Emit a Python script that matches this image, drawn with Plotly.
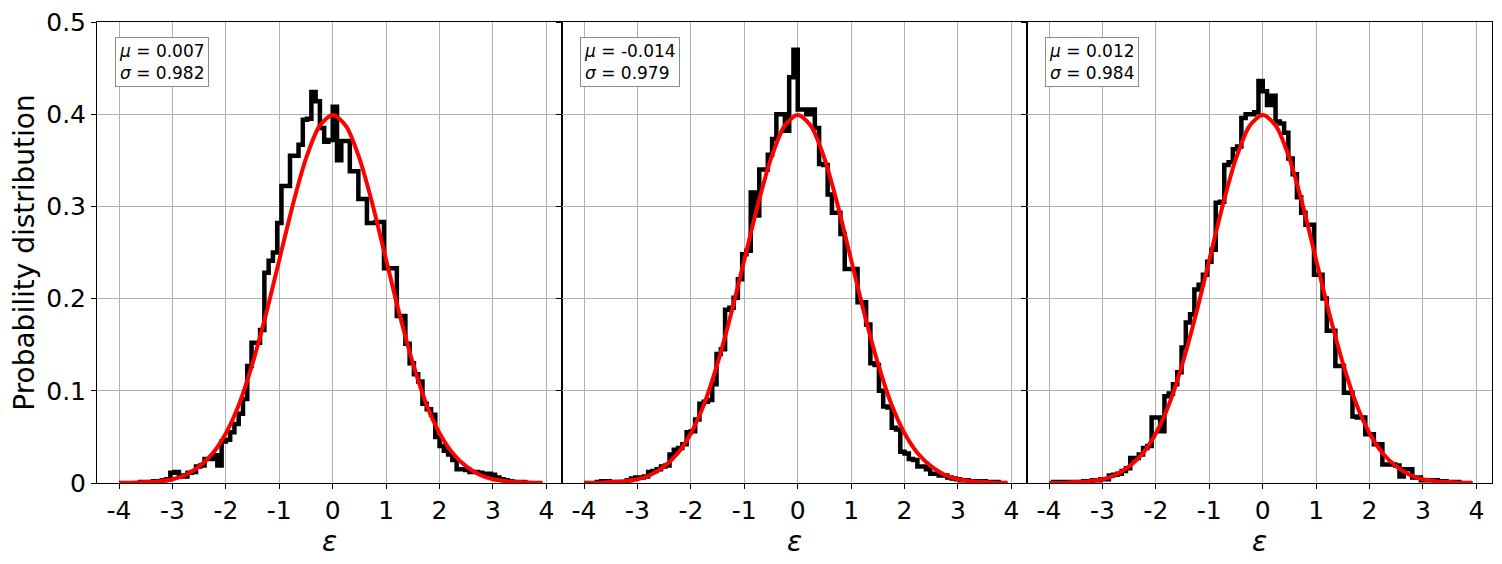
import numpy as np
import plotly.graph_objects as go
from plotly.subplots import make_subplots

# histogram bins: left edge -4, width 0.08 (99 bins)
BIN_START = -4.0
BIN_WIDTH = 0.08

HIST_A = [0, 0, 0, 0, 0, 0.001, 0.001,
          0.001, 0.002, 0.002, 0.003, 0.004,
          0.011, 0.012, 0.008, 0.007, 0.011, 0.012,
          0.018, 0.019, 0.026, 0.026, 0.030, 0.019,
          0.045, 0.047, 0.055, 0.064, 0.075, 0.091,
          0.127, 0.152, 0.152, 0.166, 0.228, 0.241,
          0.250, 0.282, 0.322, 0.322, 0.355, 0.355,
          0.367, 0.394, 0.395, 0.424, 0.414, 0.385,
          0.370, 0.372, 0.408, 0.350, 0.371, 0.371,
          0.338, 0.338, 0.308, 0.308, 0.282, 0.282,
          0.283, 0.283, 0.233, 0.233, 0.233, 0.181,
          0.181, 0.151, 0.130, 0.118, 0.110, 0.086,
          0.080, 0.074, 0.050, 0.040, 0.035, 0.031,
          0.025, 0.015, 0.015, 0.014, 0.012, 0.012,
          0.011, 0.010, 0.010, 0.009, 0.006, 0.004,
          0.003, 0.002, 0.001, 0.001, 0.001, 0, 0, 0, 0]

HIST_B = [0, 0, 0, 0.001, 0.002, 0.002, 0.001, 0.001, 0.001, 0.001,
          0.003, 0.005, 0.006, 0.006, 0.007,
          0.012, 0.013, 0.015, 0.018, 0.019,
          0.031, 0.036, 0.038, 0.042, 0.055,
          0.056, 0.069, 0.086, 0.088, 0.090,
          0.107, 0.140, 0.145, 0.188, 0.190,
          0.201, 0.221, 0.248, 0.252, 0.315,
          0.290, 0.340, 0.340, 0.356, 0.373,
          0.400, 0.400, 0.382, 0.440, 0.470,
          0.405, 0.405, 0.400, 0.405, 0.385,
          0.346, 0.345, 0.313, 0.293, 0.293,
          0.270, 0.232, 0.232, 0.232, 0.196,
          0.196, 0.172, 0.130, 0.128, 0.100,
          0.083, 0.082, 0.060, 0.058, 0.034,
          0.032, 0.026, 0.025, 0.018, 0.018,
          0.015, 0.010, 0.010, 0.008, 0.008,
          0.006, 0.005, 0.004, 0.003, 0.003,
          0.002, 0.002, 0.001, 0.002, 0.001,
          0.001, 0.001, 0, 0]

HIST_C = [0, 0.001, 0.001, 0.001, 0.001, 0.001, 0.001, 0.001, 0.002, 0.002,
          0.003, 0.003, 0.004, 0.004, 0.008,
          0.009, 0.010, 0.013, 0.016, 0.027,
          0.027, 0.031, 0.038, 0.040, 0.071,
          0.071, 0.056, 0.094, 0.097, 0.107,
          0.120, 0.147, 0.174, 0.183, 0.210,
          0.215, 0.226, 0.240, 0.253, 0.304,
          0.305, 0.345, 0.348, 0.362, 0.365,
          0.396, 0.400, 0.400, 0.402, 0.436,
          0.425, 0.410, 0.420, 0.392, 0.390,
          0.380, 0.352, 0.335, 0.310, 0.293,
          0.280, 0.280, 0.226, 0.226, 0.200,
          0.165, 0.165, 0.127, 0.127, 0.098,
          0.098, 0.072, 0.071, 0.071, 0.053,
          0.053, 0.042, 0.042, 0.020, 0.020,
          0.020, 0.019, 0.007, 0.015, 0.015,
          0.006, 0.006, 0.003, 0.003, 0.003,
          0.003, 0.002, 0.002, 0.001, 0.001,
          0.001, 0, 0, 0]

# red reference curve
CURVE_X = [-4.0, -3.75, -3.5, -3.25, -3.0, -2.75, -2.5, -2.25, -2.0, -1.75, -1.5,
           -1.25, -1.0, -0.75, -0.5, -0.25, 0.0, 0.25, 0.5, 0.75, 1.0, 1.25, 1.5,
           1.75, 2.0, 2.25, 2.5, 2.75, 3.0, 3.25, 3.5, 3.75, 3.93]
CURVE_Y = [0.000, 0.000, 0.001, 0.002, 0.004, 0.009, 0.018, 0.032, 0.054, 0.086, 0.130,
           0.183, 0.242, 0.301, 0.352, 0.387, 0.399, 0.387, 0.352, 0.301, 0.242, 0.183, 0.130,
           0.086, 0.054, 0.032, 0.018, 0.009, 0.004, 0.002, 0.001, 0.000, 0.000]

MUS = ["0.007", "-0.014", "0.012"]
SIGMAS = ["0.982", "0.979", "0.984"]

X_TICKS = [-4, -3, -2, -1, 0, 1, 2, 3, 4]
X_LABELS = ["-4", "-3", "-2", "-1", "0", "1", "2", "3", "4"]
Y_TICKS = [0, 0.1, 0.2, 0.3, 0.4, 0.5]
Y_LABELS = ["0", "0.1", "0.2", "0.3", "0.4", "0.5"]

FONT = "DejaVu Sans"

fig = make_subplots(rows=1, cols=3, shared_yaxes=True, horizontal_spacing=0)

for i, hist in enumerate([HIST_A, HIST_B, HIST_C]):
    col = i + 1
    n = len(hist)
    edges = BIN_START + BIN_WIDTH * np.arange(n + 1)
    # step outline: start at baseline, walk across bin tops, drop back down
    xs = np.concatenate([[edges[0]], edges])
    ys = np.concatenate([[0], hist, [0]])
    fig.add_trace(go.Scatter(x=xs, y=ys, mode="lines", line_shape="hv",
                             line=dict(color="black", width=4.5),
                             showlegend=False, hoverinfo="skip"),
                  row=1, col=col)
    fig.add_trace(go.Scatter(x=CURVE_X, y=CURVE_Y, mode="lines",
                             line=dict(color="#ff0000", width=4, shape="spline", smoothing=0.8),
                             showlegend=False),
                  row=1, col=col)

    xname = "x" if col == 1 else f"x{col}"
    yname = "y" if col == 1 else f"y{col}"
    fig.add_annotation(
        xref=f"{xname} domain", yref=f"{yname} domain",
        x=0.0396, y=0.9675, xanchor="left", yanchor="top",
        text=f"<i>μ</i> = {MUS[i]}<br><i>σ</i> = {SIGMAS[i]}",
        showarrow=False, align="left",
        font=dict(family=FONT, size=17, color="black"),
        bgcolor="white", bordercolor="#8c8c8c", borderwidth=1, borderpad=3,
    )

    fig.update_xaxes(
        range=[-4.413, 4.292], tickvals=X_TICKS, ticktext=X_LABELS,
        showgrid=True, gridcolor="#b0b0b0", gridwidth=1,
        showline=True, linecolor="black", linewidth=1, mirror=True,
        ticks="outside", ticklen=5, tickwidth=1, tickcolor="black",
        tickfont=dict(family=FONT, size=25, color="black"),
        ticklabeloverflow="allow", automargin=False,
        title=dict(text="<i>ε</i>", font=dict(family=FONT, size=28, color="black"), standoff=6),
        zeroline=False, row=1, col=col,
    )
    fig.update_yaxes(
        range=[0, 0.5], tickvals=Y_TICKS, ticktext=Y_LABELS,
        showgrid=True, gridcolor="#b0b0b0", gridwidth=1,
        showline=True, linecolor="black", linewidth=1, mirror=True,
        ticks="outside", ticklen=5, tickwidth=1, tickcolor="black",
        tickfont=dict(family=FONT, size=25, color="black"),
        ticklabeloverflow="allow", automargin=False,
        zeroline=False, row=1, col=col,
    )

fig.update_yaxes(title=dict(text="Probability distribution",
                            font=dict(family=FONT, size=28, color="black"), standoff=6),
                 row=1, col=1)

fig.update_layout(
    width=1502, height=564,
    margin=dict(l=89, r=18, t=14, b=89),
    plot_bgcolor="white", paper_bgcolor="white",
    font=dict(family=FONT, color="black"),
)

fig.write_html("out.html")
